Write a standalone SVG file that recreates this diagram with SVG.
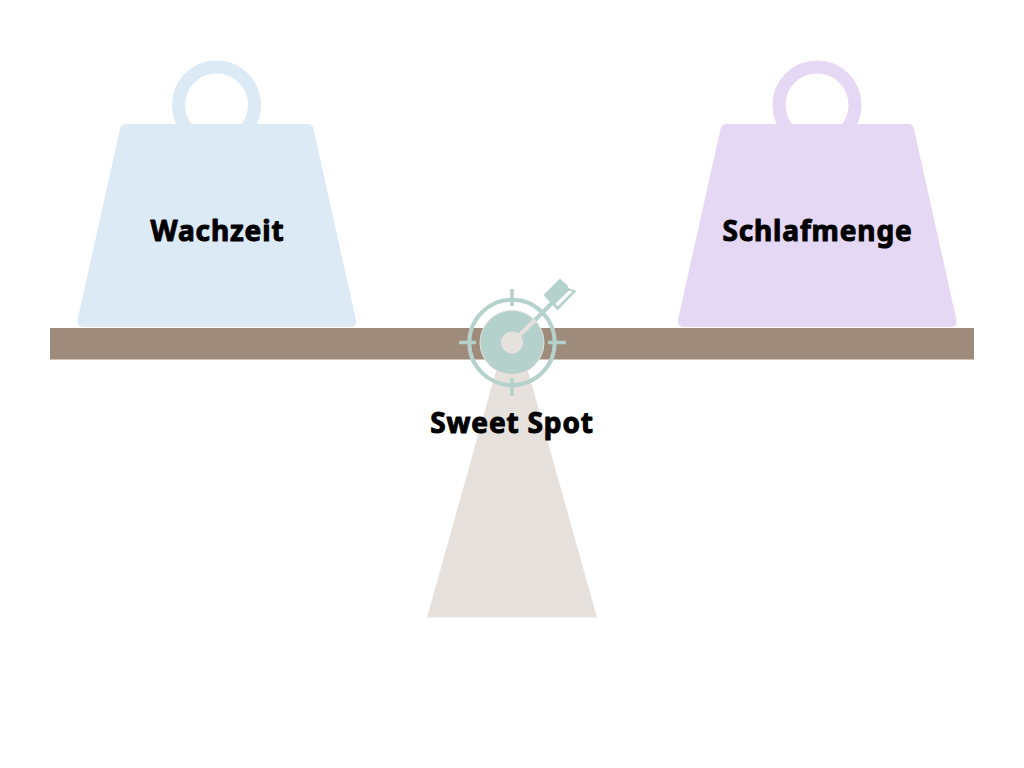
<svg xmlns="http://www.w3.org/2000/svg" width="1024" height="768" viewBox="0 0 1024 768">
<style>
.lbl{font-family:"Noto Sans","Liberation Sans",sans-serif;font-weight:700;font-size:28px;letter-spacing:.85px;text-anchor:middle;fill:#000;stroke:#000;stroke-width:1px;stroke-linejoin:round}
.t{stroke:#b5d1cc;fill:none}
</style>
<rect width="1024" height="768" fill="#fff"/>
<g id="fulcrum"><path d="M512 314L597 617.500H427Z" fill="#e6e1dd"/></g>
<g id="beam"><rect x="50" y="328" width="924" height="31.500" fill="#9e8b7c"/></g>
<g id="weight-left">
<circle cx="216.500" cy="105" r="38" fill="none" stroke="#dceaf6" stroke-width="13"/>
<path d="M127 124H307Q312.500 124 313.500 129L356 320Q357 327 350 327H84Q76.500 327 77.500 320L120 129Q121 124 127 124Z" fill="#dceaf6"/>
<text class="lbl" x="217.500" y="241">Wachzeit</text>
</g>
<g id="weight-right">
<circle cx="817" cy="105" r="38" fill="none" stroke="#e5d8f4" stroke-width="13"/>
<path d="M727.500 124H907.500Q913 124 914 129L956.500 320Q957.500 327 950.500 327H684.500Q677 327 678 320L720.500 129Q721.500 124 727.500 124Z" fill="#e5d8f4"/>
<text class="lbl" x="817.500" y="241">Schlafmenge</text>
</g>
<g id="target">
<circle cx="512" cy="342.500" r="42.700" class="t" stroke-width="4"/>
<circle cx="512" cy="342.500" r="32" fill="#b5d1cc" stroke="#e6e1dd" stroke-width="1"/>
<circle cx="512" cy="342.500" r="11" fill="#e6e1dd"/>
<path d="M459 342.500H476M548 342.500H566M512 289V306M512 378V396" class="t" stroke-width="3.500"/>
<path d="M512 342.500L536 319" stroke="#e6e1dd" stroke-width="4" fill="none" stroke-linecap="round"/>
<path d="M535 320L553 302" class="t" stroke-width="4"/>
<path d="M543.500 295L560 278.500L563.500 282L567 284.500L568.500 288L576.500 291L557.500 310.500Z" fill="#b5d1cc"/>
<path d="M555.500 303.500L569 290.500L572.500 291.500L557.500 306.500Z" fill="#fff"/>
<text class="lbl" x="512" y="433">Sweet Spot</text>
</g>
</svg>
